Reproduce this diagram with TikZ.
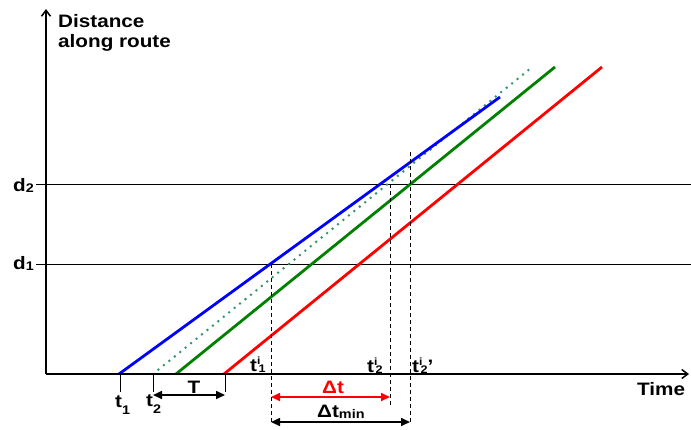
\documentclass[tikz,border=0pt]{standalone}
\usepackage{fontspec}
\setmainfont{Liberation Sans}[FakeStretch=1.15]
\usetikzlibrary{arrows.meta}
\definecolor{lnblue}{RGB}{0,0,255}
\definecolor{lngreen}{RGB}{0,128,0}
\definecolor{lnred}{RGB}{255,0,0}
\definecolor{lndot}{RGB}{50,150,100}
\newcommand{\smallfs}{\fontsize{12.5}{12.5}\selectfont}
\newcommand{\midfs}{\fontsize{11}{11}\selectfont}
\newcommand{\tinyfs}{\fontsize{10.5}{10.5}\selectfont}
\newcommand{\sbs}[2]{\raisebox{#1}{\smallfs #2}}
\newcommand{\tsi}[2]{t\rlap{\raisebox{7pt}{\tinyfs i}}\hspace{1.5pt}\raisebox{-1.5pt}{\midfs #1}#2}
\begin{document}
\begin{tikzpicture}[x=1pt,y=-1pt,
  every node/.style={font=\fontsize{18}{20}\selectfont\bfseries, inner sep=0pt},
  axis/.style={line width=1.8pt},
  axarrow/.style={-{Straight Barb[length=6pt,width=9pt,line width=1.5pt]}},
  thin/.style={line width=0.8pt},
  dashln/.style={line width=0.8pt, dash pattern=on 4pt off 3pt},
  route/.style={line width=2.8pt},
  dim/.style={line width=1.6pt, {Triangle[length=9pt,width=8pt]}-{Triangle[length=9pt,width=8pt]}},
  tickln/.style={line width=1pt}]
\useasboundingbox (0,0) rectangle (691,429);
% axes
\coordinate (O) at (46,374);
\coordinate (ytop) at (46,9);
\coordinate (xend) at (689,374);
% level lines
\coordinate (d2a) at (36,184); \coordinate (d2b) at (691,184);
\coordinate (d1a) at (36,264); \coordinate (d1b) at (691,264);
\draw[thin] (d2a) -- (d2b);
\draw[thin] (d1a) -- (d1b);
% route lines
\coordinate (b0) at (119,374); \coordinate (b1) at (500,97);
\coordinate (p0) at (153,374); \coordinate (p1) at (531,68);
\coordinate (g0) at (176,374); \coordinate (g1) at (555,67);
\coordinate (r0) at (224,374); \coordinate (r1) at (602,67);
\draw[route, lndot, line cap=round, dash pattern=on 0pt off 7pt] (p0) -- (p1);
\draw[route, lngreen] (g0) -- (g1);
\draw[route, lnred] (r0) -- (r1);
\draw[route, lnblue] (b0) -- (b1);
% dashed verticals
\coordinate (v1t) at (271,264); \coordinate (v1b) at (271,424);
\coordinate (v2t) at (390,184); \coordinate (v2b) at (390,407);
\coordinate (v3t) at (410,152); \coordinate (v3b) at (410,424);
\draw[dashln] (v1t) -- (v1b);
\draw[dashln] (v2t) -- (v2b);
\draw[dashln] (v3t) -- (v3b);
% axes on top
\draw[axis, axarrow] (O) -- (ytop);
\draw[axis, axarrow] (O) -- (xend);
% ticks
\coordinate (k1t) at (120,373); \coordinate (k1b) at (120,392);
\coordinate (k2t) at (153,373); \coordinate (k2b) at (153,392);
\coordinate (k3t) at (225,373); \coordinate (k3b) at (225,392);
\draw[tickln] (k1t) -- (k1b);
\draw[tickln] (k2t) -- (k2b);
\draw[tickln] (k3t) -- (k3b);
% dimension arrows
\coordinate (Ta) at (153,395); \coordinate (Tb) at (225,395);
\draw[dim] (Ta) -- (Tb);
\coordinate (Da) at (271,397); \coordinate (Db) at (390,397);
\draw[dim, lnred] (Da) -- (Db);
\coordinate (Ma) at (271,422); \coordinate (Mb) at (410,422);
\draw[dim] (Ma) -- (Mb);
% labels
\node[anchor=base west] (ylab1) at (58,27) {Distance};
\node[anchor=base west] (ylab2) at (58,47) {along route};
\node[anchor=base west] (xlab) at (637,395) {Time};
\node[anchor=base west] (d2l) at (13,191) {d\sbs{-1.5pt}{2}};
\node[anchor=base west] (d1l) at (13,269) {d\sbs{-1.5pt}{1}};
\node[anchor=base west] (t1l) at (115,407) {t\sbs{-7pt}{1}};
\node[anchor=base west] (t2l) at (146,406) {t\sbs{-7pt}{2}};
\node[anchor=base] (Tl) at (194,393) {T};
\node[anchor=base west] (ti1) at (250,371) {\tsi{1}{}};
\node[anchor=base west] (ti2) at (367,372) {\tsi{2}{}};
\node[anchor=base west] (ti2p) at (412,372) {\tsi{2}{’}};
\node[anchor=base, text=lnred] (dtl) at (333,393) {Δt};
\node[anchor=base west] (dtm) at (317,417) {Δt\sbs{-1pt}{min}};
\end{tikzpicture}
\end{document}
